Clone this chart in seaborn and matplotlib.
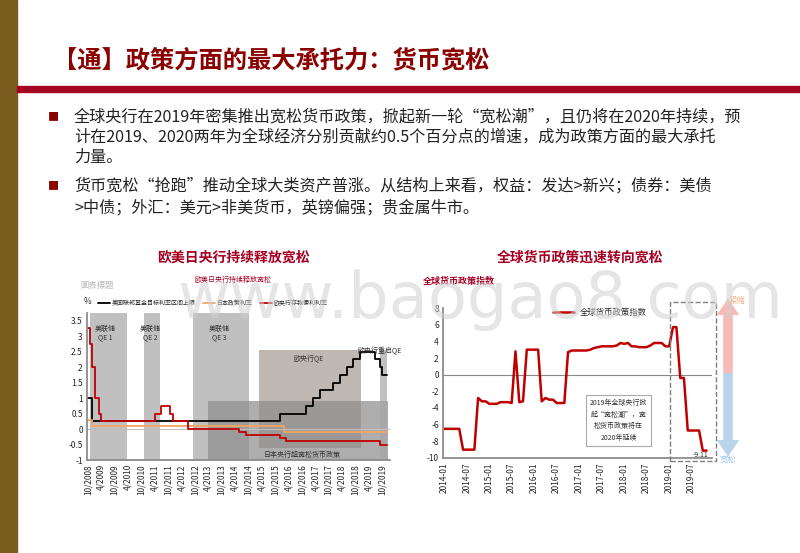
import matplotlib
matplotlib.use("Agg")
import matplotlib.pyplot as plt
import seaborn as sns
import pandas as pd
import numpy as np
from matplotlib.patches import Rectangle, FancyArrow

sns.set_theme(style="white")
plt.rcParams['font.family'] = ['Noto Sans CJK SC', 'DejaVu Sans']
plt.rcParams['axes.unicode_minus'] = False

DARKRED = "#a50021"

# ---------------- data: left chart (step change points) ----------------
fed_dates = ["2008-10", "2008-12", "2015-12", "2016-12", "2017-03", "2017-06", "2017-12",
             "2018-03", "2018-06", "2018-09", "2018-12", "2019-07", "2019-09", "2019-10", "2019-12"]
fed_vals = [1.0, 0.25, 0.5, 0.75, 1.0, 1.25, 1.5, 1.75, 2.0, 2.25, 2.5, 2.25, 2.0, 1.75, 1.75]
jp_dates = ["2008-10", "2008-12", "2016-02", "2019-12"]
jp_vals = [0.3, 0.1, -0.1, -0.1]
ecb_dates = ["2008-10", "2008-11", "2008-12", "2009-01", "2009-03", "2009-04", "2011-04",
             "2011-07", "2011-11", "2011-12", "2012-07", "2014-06", "2014-09", "2015-12",
             "2016-03", "2019-09", "2019-12"]
ecb_vals = [3.25, 2.75, 2.0, 1.0, 0.5, 0.25, 0.5, 0.75, 0.5, 0.25, 0.0, -0.1, -0.2, -0.3,
            -0.4, -0.5, -0.5]
left_ticks = pd.date_range("2008-10-01", "2019-10-01", freq="6MS")
left_ticklabels = [f"{d.month}/{d.year}" for d in left_ticks]

# ---------------- data: right chart (monthly index) ----------------
gmp_months = pd.date_range("2014-01-01", "2019-11-01", freq="MS")
gmp_vals = [-6.5, -6.5, -6.5, -6.5, -6.5, -9.0, -9.0, -9.0, -9.0, -2.8, -3.2, -3.2,
            -3.5, -3.5, -3.5, -3.3, -3.3, -3.3, -3.4, 2.8, -3.3, -3.2, 3.0, 3.0,
            3.0, 3.0, -3.2, -2.8, -3.0, -3.0, -3.4, -3.4, -3.4, 2.7, 2.9, 2.9,
            2.9, 2.9, 2.9, 3.0, 3.2, 3.3, 3.4, 3.4, 3.4, 3.4, 3.5, 3.8,
            3.7, 3.8, 3.4, 3.4, 3.3, 3.3, 3.3, 3.5, 3.8, 3.8, 3.8, 3.4,
            3.4, 5.7, 5.7, -0.4, -0.4, -6.7, -6.7, -6.7, -6.7, -9.11, -9.11]
right_ticks = pd.date_range("2014-01-01", "2019-07-01", freq="6MS")
right_ticklabels = [d.strftime("%Y-%m") for d in right_ticks]

fig = plt.figure(figsize=(8, 5.53), dpi=100)
W, H = 800, 553
def fx(x): return x / W
def fy(y): return 1 - y / H

# slide decorations
fig.patches.append(Rectangle((0, 0), fx(17), 1, transform=fig.transFigure, color="#7a5c1e", zorder=0))
fig.patches.append(Rectangle((fx(17), fy(92)), 1, 6 / H, transform=fig.transFigure, color="#a50021", zorder=0))
fig.text(fx(53), fy(60), "【通】政策方面的最大承托力：货币宽松", fontsize=17.5, color="#8b0000",
         fontweight="bold", va="center")
bul = [(117, "■", "全球央行在2019年密集推出宽松货币政策，掀起新一轮“宽松潮”，且仍将在2020年持续，预"),
       (137, None, "计在2019、2020两年为全球经济分别贡献约0.5个百分点的增速，成为政策方面的最大承托"),
       (157, None, "力量。"),
       (186, "■", "货币宽松“抢跑”推动全球大类资产普涨。从结构上来看，权益：发达>新兴；债券：美债"),
       (208, None, ">中债；外汇：美元>非美货币，英镑偏强；贵金属牛市。")]
for y, b, t in bul:
    if b:
        fig.text(fx(48), fy(y), b, fontsize=8, color="#8b0000", va="center")
    fig.text(fx(74), fy(y), t, fontsize=11.6, color="#222222", va="center")

fig.text(fx(233), fy(258), "欧美日央行持续释放宽松", fontsize=10, color=DARKRED, fontweight="bold", ha="center", va="center")
fig.text(fx(580), fy(258), "全球货币政策迅速转向宽松", fontsize=10, color=DARKRED, fontweight="bold", ha="center", va="center")

# watermark
fig.text(fx(480), fy(300), "www.baogao8.com", fontsize=46, color="#d0d0d0", alpha=0.55,
         ha="center", va="center", family="DejaVu Sans", zorder=10)

# ---------------- left chart ----------------
axL = fig.add_axes([fx(87), fy(460), fx(390) - fx(87), (460 - 313) / H])
def steps(dates, vals):
    return pd.DataFrame({"date": pd.to_datetime(dates), "v": vals})
fed = steps(fed_dates, fed_vals); jp = steps(jp_dates, jp_vals); ecb = steps(ecb_dates, ecb_vals)
T = pd.Timestamp
shades = [(T("2008-11-01"), T("2010-03-15"), -1, 3.75, "#a6a6a6"),
          (T("2010-11-01"), T("2011-06-15"), -1, 3.75, "#a6a6a6"),
          (T("2012-09-01"), T("2014-10-15"), -1, 3.75, "#a6a6a6"),
          (T("2015-03-01"), T("2018-12-15"), -0.6, 2.55, "#a49b92"),
          (T("2013-04-01"), T("2019-12-20"), -1, 0.9, "#8c8c8c"),
          (T("2019-09-01"), T("2019-12-01"), -1, 2.55, "#a6a6a6")]
for x0, x1, y0, y1, c in shades:
    axL.fill_between([x0, x1], y0, y1, color=c, alpha=0.7, lw=0, zorder=0)
sns.lineplot(data=fed, x="date", y="v", ax=axL, drawstyle="steps-post", color="black", lw=1.3, label="美国联邦基金目标利率区间上限")
sns.lineplot(data=jp, x="date", y="v", ax=axL, drawstyle="steps-post", color="#f4a460", lw=1.3, label="日本政策利率")
sns.lineplot(data=ecb, x="date", y="v", ax=axL, drawstyle="steps-post", color="#c00000", lw=1.3, label="欧央行存款便利利率")
axL.axhline(0, color="#bfbfbf", lw=0.8, zorder=0.5)
axL.set_ylim(-1, 3.75)
axL.set_xlim(T("2008-09-20"), T("2020-01-15"))
axL.set_yticks([-1, -0.5, 0, 0.5, 1, 1.5, 2, 2.5, 3, 3.5])
axL.set_yticklabels(["-1", "-0.5", "0", "0.5", "1", "1.5", "2", "2.5", "3", "3.5"], fontsize=6)
axL.set_xticks(left_ticks)
axL.set_xticklabels(left_ticklabels, rotation=90, fontsize=6)
axL.set_xlabel(""); axL.set_ylabel("")
for s in ["top", "right"]:
    axL.spines[s].set_visible(False)
axL.spines["left"].set_color("#888888"); axL.spines["bottom"].set_color("#888888")
axL.tick_params(length=2, pad=1)
axL.legend(loc="lower left", bbox_to_anchor=(0.03, 1.03), ncol=3, fontsize=4.3, frameon=False,
           handlelength=2, columnspacing=1.2, borderaxespad=0, handletextpad=0.3)
for x, y, t in [(T("2009-06-01"), 3.1, "美联储\nQE 1"), (T("2011-02-01"), 3.1, "美联储\nQE 2"),
                (T("2013-09-01"), 3.1, "美联储\nQE 3")]:
    axL.text(x, y, t, fontsize=5, ha="center", va="center", color="#333333")
axL.text(T("2017-01-01"), 2.2, "欧央行QE", fontsize=5, ha="center", color="#333333")
axL.text(T("2016-10-01"), -0.9, "日本央行超宽松货币政策", fontsize=5, ha="center", color="#333333")
axL.text(T("2019-09-01"), 2.45, "欧央行重启QE", fontsize=5, ha="center", color="#333333", clip_on=False)
fig.text(fx(84), fy(301), "%", fontsize=6, color="#333333", va="center")
fig.text(fx(80), fy(285), "圖表標題", fontsize=6, color="#bbbbbb", va="center")
fig.text(fx(233), fy(280), "欧美日央行持续释放宽松", fontsize=5, color=DARKRED, ha="center", va="center")

# ---------------- right chart ----------------
axR = fig.add_axes([fx(443), fy(458), fx(712) - fx(443), 150 / H])
gmp = pd.DataFrame({"date": gmp_months, "v": gmp_vals})
sns.lineplot(data=gmp, x="date", y="v", ax=axR, color="#c00000", lw=1.8, label="全球货币政策指数")
axR.axhline(0, color="#888888", lw=0.8, zorder=0.5)
axR.set_ylim(-10, 8)
axR.set_xlim(T("2013-12-20"), T("2019-12-15"))
axR.set_yticks(range(-10, 9, 2))
axR.set_yticklabels([str(v) for v in range(-10, 9, 2)], fontsize=6)
axR.set_xticks(right_ticks)
axR.set_xticklabels(right_ticklabels, rotation=90, fontsize=6)
axR.set_xlabel(""); axR.set_ylabel("")
for s in ["top", "right"]:
    axR.spines[s].set_visible(False)
axR.spines["left"].set_color("#888888"); axR.spines["bottom"].set_color("#888888")
axR.tick_params(length=2, pad=1)
axR.legend(loc="upper left", bbox_to_anchor=(0.38, 1.05), fontsize=6, frameon=False, handlelength=2.5)
axR.text(T("2019-09-15"), -9.9, "-9.11", fontsize=5, ha="center", color="#333333")
axR.text(T("2017-11-15"), -5.5, "2019年全球央行掀\n起“宽松潮”，宽\n松货币政策将在\n2020年延续", fontsize=5,
         ha="center", va="center", color="#333333", linespacing=1.6,
         bbox=dict(boxstyle="square,pad=0.6", fc="white", ec="#aaaaaa", lw=0.8))
fig.patches.append(Rectangle((fx(670), fy(461)), fx(716) - fx(670), (461 - 302) / H,
                             transform=fig.transFigure, fill=False, ec="#7f7f7f", ls="--", lw=1))
fig.patches.append(FancyArrow(fx(728), fy(373), 0, (373 - 315) / H, width=0.012, head_width=0.028,
                              head_length=0.03, transform=fig.transFigure, color="#f8b9b9", lw=0))
fig.patches.append(FancyArrow(fx(728), fy(373), 0, -(440 - 373) / H, width=0.012, head_width=0.028,
                              head_length=0.03, transform=fig.transFigure, color="#b9d3ea", lw=0))
fig.text(fx(737), fy(301), "紧缩", fontsize=6, color="#f4b183", ha="center", va="center")
fig.text(fx(728), fy(459), "宽松", fontsize=6, color="#9dc3e6", ha="center", va="center")
fig.text(fx(423), fy(281), "全球货币政策指数", fontsize=6.5, color=DARKRED, fontweight="bold", va="center")

fig.savefig("out.png", dpi=100)
